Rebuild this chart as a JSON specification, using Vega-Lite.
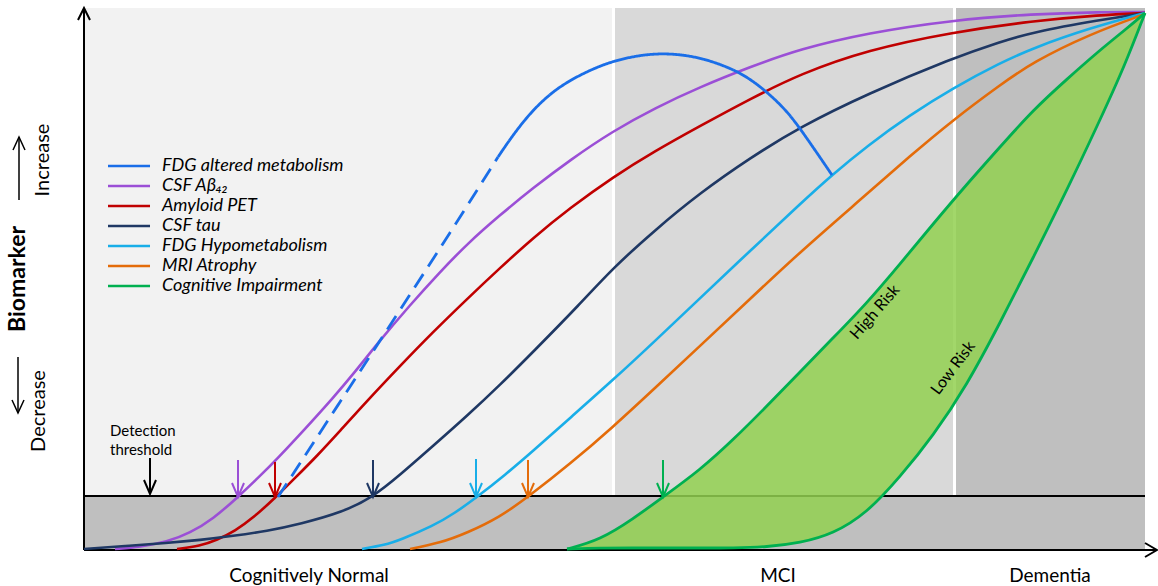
{
  "$schema": "https://vega.github.io/schema/vega-lite/v6.json",
  "width": 1158,
  "height": 586,
  "autosize": {"type": "none"},
  "padding": 0,
  "background": "white",
  "config": {"view": {"stroke": null}, "font": "Lato"},
  "datasets": {
    "zones": [
      {"zone": "Cognitively Normal", "t0": 0, "t1": 528, "v0": 0, "v1": 542},
      {"zone": "MCI", "t0": 531, "t1": 869, "v0": 0, "v1": 542},
      {"zone": "Dementia", "t0": 872, "t1": 1061, "v0": 0, "v1": 542},
      {"zone": "Below detection threshold", "t0": 0, "t1": 1061, "v0": 0, "v1": 54}
    ],
    "guides": [
      {"kind": "threshold", "path": "thr", "k": 0, "t": 0, "v": 54},
      {"kind": "threshold", "path": "thr", "k": 1, "t": 1061, "v": 54},
      {"kind": "axis", "path": "yaxis", "k": 0, "t": 0, "v": 0},
      {"kind": "axis", "path": "yaxis", "k": 1, "t": 0, "v": 542},
      {"kind": "axis", "path": "yhead", "k": 0, "t": -6, "v": 530},
      {"kind": "axis", "path": "yhead", "k": 1, "t": 0, "v": 542},
      {"kind": "axis", "path": "yhead", "k": 2, "t": 6, "v": 530},
      {"kind": "axis", "path": "xaxis", "k": 0, "t": 0, "v": 0},
      {"kind": "axis", "path": "xaxis", "k": 1, "t": 1073, "v": 0},
      {"kind": "axis", "path": "xhead", "k": 0, "t": 1061, "v": 7},
      {"kind": "axis", "path": "xhead", "k": 1, "t": 1073, "v": 0},
      {"kind": "axis", "path": "xhead", "k": 2, "t": 1061, "v": -7},
      {"kind": "detection", "path": "dshaft", "k": 0, "t": 66, "v": 92},
      {"kind": "detection", "path": "dshaft", "k": 1, "t": 66, "v": 56},
      {"kind": "detection", "path": "dhead", "k": 0, "t": 60, "v": 70},
      {"kind": "detection", "path": "dhead", "k": 1, "t": 66, "v": 56},
      {"kind": "detection", "path": "dhead", "k": 2, "t": 72, "v": 70},
      {"kind": "pointer", "path": "ishaft", "k": 0, "t": -65, "v": 350},
      {"kind": "pointer", "path": "ishaft", "k": 1, "t": -65, "v": 413},
      {"kind": "pointer", "path": "ihead", "k": 0, "t": -71, "v": 400},
      {"kind": "pointer", "path": "ihead", "k": 1, "t": -65, "v": 413},
      {"kind": "pointer", "path": "ihead", "k": 2, "t": -59, "v": 400},
      {"kind": "pointer", "path": "dcshaft", "k": 0, "t": -66, "v": 193},
      {"kind": "pointer", "path": "dcshaft", "k": 1, "t": -66, "v": 137},
      {"kind": "pointer", "path": "dchead", "k": 0, "t": -72, "v": 150},
      {"kind": "pointer", "path": "dchead", "k": 1, "t": -66, "v": 137},
      {"kind": "pointer", "path": "dchead", "k": 2, "t": -60, "v": 150}
    ],
    "impairment": [
      {"t": 483, "high": 1, "low": 1},
      {"t": 516, "high": 10, "low": 2},
      {"t": 549, "high": 31, "low": 2},
      {"t": 579, "high": 53, "low": 2},
      {"t": 616, "high": 80, "low": 2},
      {"t": 649, "high": 110, "low": 2},
      {"t": 683, "high": 144, "low": 3},
      {"t": 716, "high": 178, "low": 7},
      {"t": 749, "high": 212, "low": 16},
      {"t": 783, "high": 247, "low": 37},
      {"t": 816, "high": 286, "low": 73},
      {"t": 849, "high": 326, "low": 114},
      {"t": 883, "high": 366, "low": 165},
      {"t": 916, "high": 403, "low": 227},
      {"t": 949, "high": 440, "low": 292},
      {"t": 983, "high": 471, "low": 360},
      {"t": 1016, "high": 500, "low": 430},
      {"t": 1041, "high": 520, "low": 485},
      {"t": 1061, "high": 537, "low": 537}
    ],
    "curves": [
      {"series": "CSF Aβ₄₂", "t": 31, "v": 1},
      {"series": "CSF Aβ₄₂", "t": 56, "v": 3},
      {"series": "CSF Aβ₄₂", "t": 83, "v": 8},
      {"series": "CSF Aβ₄₂", "t": 106, "v": 17},
      {"series": "CSF Aβ₄₂", "t": 129, "v": 31},
      {"series": "CSF Aβ₄₂", "t": 154, "v": 53},
      {"series": "CSF Aβ₄₂", "t": 176, "v": 74},
      {"series": "CSF Aβ₄₂", "t": 193, "v": 91},
      {"series": "CSF Aβ₄₂", "t": 221, "v": 121},
      {"series": "CSF Aβ₄₂", "t": 249, "v": 152},
      {"series": "CSF Aβ₄₂", "t": 271, "v": 178},
      {"series": "CSF Aβ₄₂", "t": 293, "v": 206},
      {"series": "CSF Aβ₄₂", "t": 326, "v": 245},
      {"series": "CSF Aβ₄₂", "t": 356, "v": 278},
      {"series": "CSF Aβ₄₂", "t": 383, "v": 306},
      {"series": "CSF Aβ₄₂", "t": 416, "v": 335},
      {"series": "CSF Aβ₄₂", "t": 449, "v": 362},
      {"series": "CSF Aβ₄₂", "t": 486, "v": 390},
      {"series": "CSF Aβ₄₂", "t": 529, "v": 419},
      {"series": "CSF Aβ₄₂", "t": 571, "v": 442},
      {"series": "CSF Aβ₄₂", "t": 616, "v": 463},
      {"series": "CSF Aβ₄₂", "t": 666, "v": 483},
      {"series": "CSF Aβ₄₂", "t": 716, "v": 501},
      {"series": "CSF Aβ₄₂", "t": 783, "v": 517},
      {"series": "CSF Aβ₄₂", "t": 869, "v": 530},
      {"series": "CSF Aβ₄₂", "t": 949, "v": 536},
      {"series": "CSF Aβ₄₂", "t": 1016, "v": 538},
      {"series": "CSF Aβ₄₂", "t": 1061, "v": 538},
      {"series": "Amyloid PET", "t": 93, "v": 1},
      {"series": "Amyloid PET", "t": 116, "v": 4},
      {"series": "Amyloid PET", "t": 133, "v": 10},
      {"series": "Amyloid PET", "t": 151, "v": 19},
      {"series": "Amyloid PET", "t": 169, "v": 32},
      {"series": "Amyloid PET", "t": 191, "v": 52},
      {"series": "Amyloid PET", "t": 211, "v": 72},
      {"series": "Amyloid PET", "t": 233, "v": 94},
      {"series": "Amyloid PET", "t": 256, "v": 119},
      {"series": "Amyloid PET", "t": 283, "v": 149},
      {"series": "Amyloid PET", "t": 316, "v": 184},
      {"series": "Amyloid PET", "t": 349, "v": 218},
      {"series": "Amyloid PET", "t": 383, "v": 251},
      {"series": "Amyloid PET", "t": 416, "v": 282},
      {"series": "Amyloid PET", "t": 449, "v": 312},
      {"series": "Amyloid PET", "t": 486, "v": 342},
      {"series": "Amyloid PET", "t": 529, "v": 373},
      {"series": "Amyloid PET", "t": 571, "v": 399},
      {"series": "Amyloid PET", "t": 616, "v": 424},
      {"series": "Amyloid PET", "t": 666, "v": 451},
      {"series": "Amyloid PET", "t": 716, "v": 476},
      {"series": "Amyloid PET", "t": 783, "v": 500},
      {"series": "Amyloid PET", "t": 869, "v": 518},
      {"series": "Amyloid PET", "t": 949, "v": 529},
      {"series": "Amyloid PET", "t": 1016, "v": 535},
      {"series": "Amyloid PET", "t": 1061, "v": 537},
      {"series": "CSF tau", "t": 0, "v": 1},
      {"series": "CSF tau", "t": 41, "v": 4},
      {"series": "CSF tau", "t": 83, "v": 7},
      {"series": "CSF tau", "t": 116, "v": 10},
      {"series": "CSF tau", "t": 149, "v": 14},
      {"series": "CSF tau", "t": 183, "v": 19},
      {"series": "CSF tau", "t": 216, "v": 26},
      {"series": "CSF tau", "t": 259, "v": 38},
      {"series": "CSF tau", "t": 289, "v": 53},
      {"series": "CSF tau", "t": 316, "v": 75},
      {"series": "CSF tau", "t": 349, "v": 104},
      {"series": "CSF tau", "t": 383, "v": 134},
      {"series": "CSF tau", "t": 416, "v": 165},
      {"series": "CSF tau", "t": 449, "v": 198},
      {"series": "CSF tau", "t": 496, "v": 246},
      {"series": "CSF tau", "t": 529, "v": 282},
      {"series": "CSF tau", "t": 571, "v": 320},
      {"series": "CSF tau", "t": 616, "v": 357},
      {"series": "CSF tau", "t": 666, "v": 392},
      {"series": "CSF tau", "t": 716, "v": 423},
      {"series": "CSF tau", "t": 783, "v": 456},
      {"series": "CSF tau", "t": 869, "v": 492},
      {"series": "CSF tau", "t": 916, "v": 508},
      {"series": "CSF tau", "t": 949, "v": 518},
      {"series": "CSF tau", "t": 1016, "v": 530},
      {"series": "CSF tau", "t": 1061, "v": 537},
      {"series": "FDG Hypometabolism", "t": 278, "v": 1},
      {"series": "FDG Hypometabolism", "t": 301, "v": 5},
      {"series": "FDG Hypometabolism", "t": 316, "v": 10},
      {"series": "FDG Hypometabolism", "t": 349, "v": 24},
      {"series": "FDG Hypometabolism", "t": 371, "v": 37},
      {"series": "FDG Hypometabolism", "t": 393, "v": 53},
      {"series": "FDG Hypometabolism", "t": 421, "v": 75},
      {"series": "FDG Hypometabolism", "t": 449, "v": 99},
      {"series": "FDG Hypometabolism", "t": 486, "v": 132},
      {"series": "FDG Hypometabolism", "t": 529, "v": 170},
      {"series": "FDG Hypometabolism", "t": 571, "v": 209},
      {"series": "FDG Hypometabolism", "t": 613, "v": 249},
      {"series": "FDG Hypometabolism", "t": 666, "v": 299},
      {"series": "FDG Hypometabolism", "t": 716, "v": 346},
      {"series": "FDG Hypometabolism", "t": 748, "v": 375},
      {"series": "FDG Hypometabolism", "t": 783, "v": 404},
      {"series": "FDG Hypometabolism", "t": 826, "v": 435},
      {"series": "FDG Hypometabolism", "t": 869, "v": 462},
      {"series": "FDG Hypometabolism", "t": 916, "v": 487},
      {"series": "FDG Hypometabolism", "t": 949, "v": 502},
      {"series": "FDG Hypometabolism", "t": 1006, "v": 522},
      {"series": "FDG Hypometabolism", "t": 1061, "v": 537},
      {"series": "MRI Atrophy", "t": 326, "v": 1},
      {"series": "MRI Atrophy", "t": 356, "v": 7},
      {"series": "MRI Atrophy", "t": 383, "v": 17},
      {"series": "MRI Atrophy", "t": 416, "v": 33},
      {"series": "MRI Atrophy", "t": 444, "v": 53},
      {"series": "MRI Atrophy", "t": 486, "v": 86},
      {"series": "MRI Atrophy", "t": 529, "v": 123},
      {"series": "MRI Atrophy", "t": 571, "v": 162},
      {"series": "MRI Atrophy", "t": 616, "v": 204},
      {"series": "MRI Atrophy", "t": 666, "v": 251},
      {"series": "MRI Atrophy", "t": 716, "v": 298},
      {"series": "MRI Atrophy", "t": 783, "v": 356},
      {"series": "MRI Atrophy", "t": 826, "v": 394},
      {"series": "MRI Atrophy", "t": 869, "v": 430},
      {"series": "MRI Atrophy", "t": 916, "v": 465},
      {"series": "MRI Atrophy", "t": 949, "v": 488},
      {"series": "MRI Atrophy", "t": 1006, "v": 516},
      {"series": "MRI Atrophy", "t": 1061, "v": 536}
    ],
    "altered": [
      {"series": "FDG altered metabolism", "part": "dashed", "t": 194, "v": 53},
      {"series": "FDG altered metabolism", "part": "dashed", "t": 256, "v": 148},
      {"series": "FDG altered metabolism", "part": "dashed", "t": 316, "v": 240},
      {"series": "FDG altered metabolism", "part": "dashed", "t": 366, "v": 317},
      {"series": "FDG altered metabolism", "part": "dashed", "t": 414, "v": 393},
      {"series": "FDG altered metabolism", "part": "solid", "t": 414, "v": 393},
      {"series": "FDG altered metabolism", "part": "solid", "t": 431, "v": 418},
      {"series": "FDG altered metabolism", "part": "solid", "t": 449, "v": 440},
      {"series": "FDG altered metabolism", "part": "solid", "t": 466, "v": 456},
      {"series": "FDG altered metabolism", "part": "solid", "t": 483, "v": 468},
      {"series": "FDG altered metabolism", "part": "solid", "t": 506, "v": 480},
      {"series": "FDG altered metabolism", "part": "solid", "t": 529, "v": 489},
      {"series": "FDG altered metabolism", "part": "solid", "t": 556, "v": 495},
      {"series": "FDG altered metabolism", "part": "solid", "t": 583, "v": 497},
      {"series": "FDG altered metabolism", "part": "solid", "t": 616, "v": 493},
      {"series": "FDG altered metabolism", "part": "solid", "t": 649, "v": 481},
      {"series": "FDG altered metabolism", "part": "solid", "t": 666, "v": 471},
      {"series": "FDG altered metabolism", "part": "solid", "t": 683, "v": 458},
      {"series": "FDG altered metabolism", "part": "solid", "t": 701, "v": 441},
      {"series": "FDG altered metabolism", "part": "solid", "t": 716, "v": 422},
      {"series": "FDG altered metabolism", "part": "solid", "t": 748, "v": 375}
    ],
    "markers": [
      {"series": "CSF Aβ₄₂", "part": "shaft", "k": 0, "t": 154, "v": 90},
      {"series": "CSF Aβ₄₂", "part": "shaft", "k": 1, "t": 154, "v": 53},
      {"series": "CSF Aβ₄₂", "part": "head", "k": 0, "t": 148, "v": 67},
      {"series": "CSF Aβ₄₂", "part": "head", "k": 1, "t": 154, "v": 53},
      {"series": "CSF Aβ₄₂", "part": "head", "k": 2, "t": 160, "v": 67},
      {"series": "Amyloid PET", "part": "shaft", "k": 0, "t": 191, "v": 88},
      {"series": "Amyloid PET", "part": "shaft", "k": 1, "t": 191, "v": 53},
      {"series": "Amyloid PET", "part": "head", "k": 0, "t": 185, "v": 67},
      {"series": "Amyloid PET", "part": "head", "k": 1, "t": 191, "v": 53},
      {"series": "Amyloid PET", "part": "head", "k": 2, "t": 197, "v": 67},
      {"series": "CSF tau", "part": "shaft", "k": 0, "t": 289, "v": 90},
      {"series": "CSF tau", "part": "shaft", "k": 1, "t": 289, "v": 53},
      {"series": "CSF tau", "part": "head", "k": 0, "t": 283, "v": 67},
      {"series": "CSF tau", "part": "head", "k": 1, "t": 289, "v": 53},
      {"series": "CSF tau", "part": "head", "k": 2, "t": 295, "v": 67},
      {"series": "FDG Hypometabolism", "part": "shaft", "k": 0, "t": 392, "v": 91},
      {"series": "FDG Hypometabolism", "part": "shaft", "k": 1, "t": 392, "v": 53},
      {"series": "FDG Hypometabolism", "part": "head", "k": 0, "t": 386, "v": 67},
      {"series": "FDG Hypometabolism", "part": "head", "k": 1, "t": 392, "v": 53},
      {"series": "FDG Hypometabolism", "part": "head", "k": 2, "t": 398, "v": 67},
      {"series": "MRI Atrophy", "part": "shaft", "k": 0, "t": 444, "v": 90},
      {"series": "MRI Atrophy", "part": "shaft", "k": 1, "t": 444, "v": 53},
      {"series": "MRI Atrophy", "part": "head", "k": 0, "t": 438, "v": 67},
      {"series": "MRI Atrophy", "part": "head", "k": 1, "t": 444, "v": 53},
      {"series": "MRI Atrophy", "part": "head", "k": 2, "t": 450, "v": 67},
      {"series": "Cognitive Impairment", "part": "shaft", "k": 0, "t": 579, "v": 90},
      {"series": "Cognitive Impairment", "part": "shaft", "k": 1, "t": 579, "v": 53},
      {"series": "Cognitive Impairment", "part": "head", "k": 0, "t": 573, "v": 67},
      {"series": "Cognitive Impairment", "part": "head", "k": 1, "t": 579, "v": 53},
      {"series": "Cognitive Impairment", "part": "head", "k": 2, "t": 585, "v": 67}
    ],
    "stages": [
      {"label": "Cognitively Normal", "t": 225, "v": -26},
      {"label": "MCI", "t": 694, "v": -26},
      {"label": "Dementia", "t": 966, "v": -26}
    ],
    "direction": [
      {"label": "Increase", "t": -41, "v": 390},
      {"label": "Decrease", "t": -45, "v": 139}
    ],
    "title": [{"label": "Biomarker", "t": -66, "v": 271}],
    "threshold": [
      {"label": "Detection", "t": 26, "v": 119},
      {"label": "threshold", "t": 26, "v": 100}
    ],
    "highrisk": [{"label": "High Risk", "t": 791, "v": 238}],
    "lowrisk": [{"label": "Low Risk", "t": 869, "v": 182}]
  },
  "layer": [
    {
      "data": {"name": "zones"},
      "mark": {"type": "rect"},
      "encoding": {
        "x": {"field": "t0", "type": "quantitative", "scale": {"domain": [-84, 1074], "nice": false, "zero": false}, "axis": null},
        "x2": {"field": "t1"},
        "y": {"field": "v0", "type": "quantitative", "scale": {"domain": [-36, 550], "nice": false, "zero": false}, "axis": null},
        "y2": {"field": "v1"},
        "fill": {"field": "zone", "type": "nominal", "scale": {"domain": ["Cognitively Normal", "MCI", "Dementia", "Below detection threshold"], "range": ["#f2f2f2", "#d9d9d9", "#bfbfbf", "#bfbfbf"]}, "legend": null}
      }
    },
    {
      "data": {"name": "guides"},
      "transform": [{"filter": "datum.kind !== 'pointer'"}],
      "mark": {"type": "line", "color": "#000000", "strokeWidth": 2},
      "encoding": {
        "x": {"field": "t", "type": "quantitative", "scale": {"domain": [-84, 1074], "nice": false, "zero": false}, "axis": null},
        "y": {"field": "v", "type": "quantitative", "scale": {"domain": [-36, 550], "nice": false, "zero": false}, "axis": null},
        "detail": {"field": "path"},
        "order": {"field": "k", "type": "quantitative"}
      }
    },
    {
      "data": {"name": "guides"},
      "transform": [{"filter": "datum.kind === 'pointer'"}],
      "mark": {"type": "line", "color": "#000000", "strokeWidth": 1.5},
      "encoding": {
        "x": {"field": "t", "type": "quantitative", "scale": {"domain": [-84, 1074], "nice": false, "zero": false}, "axis": null},
        "y": {"field": "v", "type": "quantitative", "scale": {"domain": [-36, 550], "nice": false, "zero": false}, "axis": null},
        "detail": {"field": "path"},
        "order": {"field": "k", "type": "quantitative"}
      }
    },
    {
      "data": {"name": "impairment"},
      "mark": {"type": "area", "color": "#92d050", "opacity": 0.85, "interpolate": "basis"},
      "encoding": {
        "x": {"field": "t", "type": "quantitative", "scale": {"domain": [-84, 1074], "nice": false, "zero": false}, "axis": null},
        "y": {"field": "high", "type": "quantitative", "scale": {"domain": [-36, 550], "nice": false, "zero": false}, "axis": null},
        "y2": {"field": "low"}
      }
    },
    {
      "data": {"name": "curves"},
      "mark": {"type": "line", "strokeWidth": 2.6, "interpolate": "basis"},
      "encoding": {
        "x": {"field": "t", "type": "quantitative", "scale": {"domain": [-84, 1074], "nice": false, "zero": false}, "axis": null},
        "y": {"field": "v", "type": "quantitative", "scale": {"domain": [-36, 550], "nice": false, "zero": false}, "axis": null},
        "color": {
          "field": "series",
          "type": "nominal",
          "scale": {
            "domain": ["FDG altered metabolism", "CSF Aβ₄₂", "Amyloid PET", "CSF tau", "FDG Hypometabolism", "MRI Atrophy", "Cognitive Impairment"],
            "range": ["#1a6ee8", "#9b4fd6", "#c00000", "#1f3864", "#19aee8", "#e46c0a", "#00b050"]
          },
          "legend": {
            "orient": "none",
            "legendX": 99,
            "legendY": 157,
            "title": null,
            "padding": 0,
            "symbolType": "M0,0L6,0",
            "symbolSize": 196,
            "symbolStrokeWidth": 2.5,
            "labelFont": "Lato",
            "labelFontStyle": "italic",
            "labelFontSize": 18,
            "labelColor": "#000000",
            "labelOffset": 45,
            "labelLimit": 400,
            "rowPadding": 2
          }
        }
      }
    },
    {
      "data": {"name": "impairment"},
      "mark": {"type": "line", "strokeWidth": 2.8, "interpolate": "basis"},
      "encoding": {
        "x": {"field": "t", "type": "quantitative", "scale": {"domain": [-84, 1074], "nice": false, "zero": false}, "axis": null},
        "y": {"field": "high", "type": "quantitative", "scale": {"domain": [-36, 550], "nice": false, "zero": false}, "axis": null},
        "color": {"datum": "Cognitive Impairment", "type": "nominal"}
      }
    },
    {
      "data": {"name": "impairment"},
      "mark": {"type": "line", "strokeWidth": 2.8, "interpolate": "basis"},
      "encoding": {
        "x": {"field": "t", "type": "quantitative", "scale": {"domain": [-84, 1074], "nice": false, "zero": false}, "axis": null},
        "y": {"field": "low", "type": "quantitative", "scale": {"domain": [-36, 550], "nice": false, "zero": false}, "axis": null},
        "color": {"datum": "Cognitive Impairment", "type": "nominal"}
      }
    },
    {
      "data": {"name": "altered"},
      "mark": {"type": "line", "strokeWidth": 2.8, "interpolate": "basis"},
      "encoding": {
        "x": {"field": "t", "type": "quantitative", "scale": {"domain": [-84, 1074], "nice": false, "zero": false}, "axis": null},
        "y": {"field": "v", "type": "quantitative", "scale": {"domain": [-36, 550], "nice": false, "zero": false}, "axis": null},
        "color": {"field": "series", "type": "nominal"},
        "strokeDash": {"field": "part", "type": "nominal", "scale": {"domain": ["dashed", "solid"], "range": [[16, 9], [1, 0]]}, "legend": null}
      }
    },
    {
      "data": {"name": "markers"},
      "mark": {"type": "line", "strokeWidth": 2},
      "encoding": {
        "x": {"field": "t", "type": "quantitative", "scale": {"domain": [-84, 1074], "nice": false, "zero": false}, "axis": null},
        "y": {"field": "v", "type": "quantitative", "scale": {"domain": [-36, 550], "nice": false, "zero": false}, "axis": null},
        "color": {"field": "series", "type": "nominal"},
        "detail": {"field": "part"},
        "order": {"field": "k", "type": "quantitative"}
      }
    },
    {
      "data": {"name": "stages"},
      "mark": {"type": "text", "fontSize": 19, "font": "Lato", "align": "center", "baseline": "middle", "color": "#000000"},
      "encoding": {
        "x": {"field": "t", "type": "quantitative", "scale": {"domain": [-84, 1074], "nice": false, "zero": false}, "axis": null},
        "y": {"field": "v", "type": "quantitative", "scale": {"domain": [-36, 550], "nice": false, "zero": false}, "axis": null},
        "text": {"field": "label"}
      }
    },
    {
      "data": {"name": "direction"},
      "mark": {"type": "text", "fontSize": 20, "font": "Lato", "angle": 270, "align": "center", "baseline": "middle", "color": "#000000"},
      "encoding": {
        "x": {"field": "t", "type": "quantitative", "scale": {"domain": [-84, 1074], "nice": false, "zero": false}, "axis": null},
        "y": {"field": "v", "type": "quantitative", "scale": {"domain": [-36, 550], "nice": false, "zero": false}, "axis": null},
        "text": {"field": "label"}
      }
    },
    {
      "data": {"name": "title"},
      "mark": {"type": "text", "fontSize": 23, "font": "Lato", "fontWeight": "bold", "angle": 270, "align": "center", "baseline": "middle", "color": "#000000"},
      "encoding": {
        "x": {"field": "t", "type": "quantitative", "scale": {"domain": [-84, 1074], "nice": false, "zero": false}, "axis": null},
        "y": {"field": "v", "type": "quantitative", "scale": {"domain": [-36, 550], "nice": false, "zero": false}, "axis": null},
        "text": {"field": "label"}
      }
    },
    {
      "data": {"name": "threshold"},
      "mark": {"type": "text", "fontSize": 15, "font": "Lato", "align": "left", "baseline": "middle", "color": "#000000"},
      "encoding": {
        "x": {"field": "t", "type": "quantitative", "scale": {"domain": [-84, 1074], "nice": false, "zero": false}, "axis": null},
        "y": {"field": "v", "type": "quantitative", "scale": {"domain": [-36, 550], "nice": false, "zero": false}, "axis": null},
        "text": {"field": "label"}
      }
    },
    {
      "data": {"name": "highrisk"},
      "mark": {"type": "text", "fontSize": 16, "font": "Lato", "angle": -49, "align": "center", "baseline": "middle", "color": "#000000"},
      "encoding": {
        "x": {"field": "t", "type": "quantitative", "scale": {"domain": [-84, 1074], "nice": false, "zero": false}, "axis": null},
        "y": {"field": "v", "type": "quantitative", "scale": {"domain": [-36, 550], "nice": false, "zero": false}, "axis": null},
        "text": {"field": "label"}
      }
    },
    {
      "data": {"name": "lowrisk"},
      "mark": {"type": "text", "fontSize": 16, "font": "Lato", "angle": -53, "align": "center", "baseline": "middle", "color": "#000000"},
      "encoding": {
        "x": {"field": "t", "type": "quantitative", "scale": {"domain": [-84, 1074], "nice": false, "zero": false}, "axis": null},
        "y": {"field": "v", "type": "quantitative", "scale": {"domain": [-36, 550], "nice": false, "zero": false}, "axis": null},
        "text": {"field": "label"}
      }
    }
  ]
}
